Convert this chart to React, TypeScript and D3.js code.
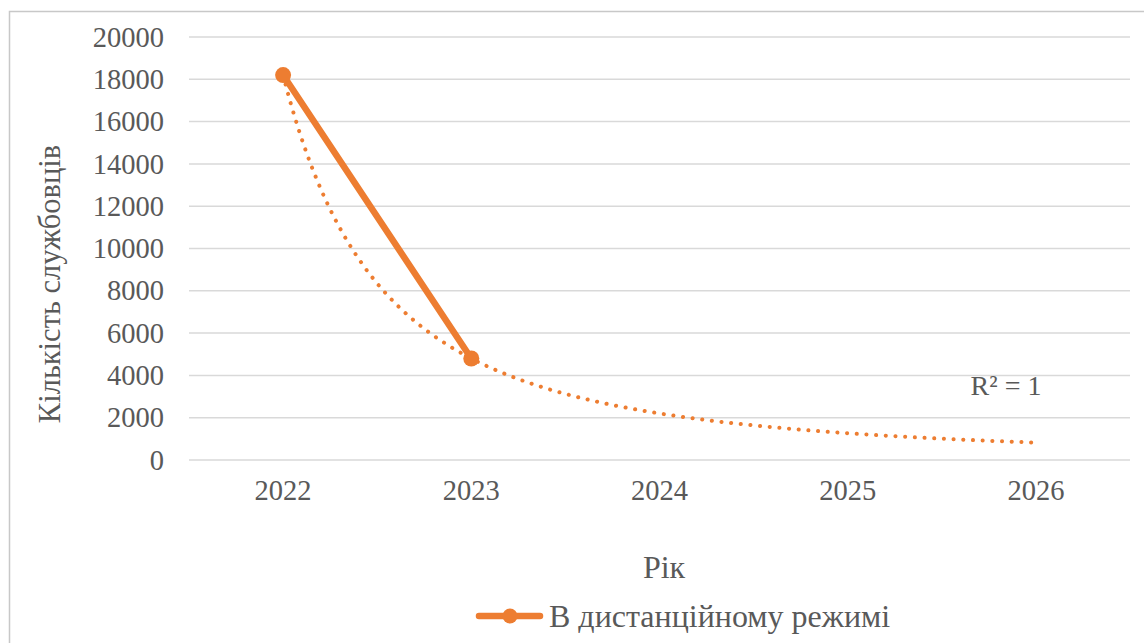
import * as d3 from 'd3';
import { useEffect, useRef } from 'react';

const years = ['2022', '2023', '2024', '2025', '2026'];
const seriesYears = ['2022', '2023'];
const remoteValues = [18200, 4800];
const yTicks = [0, 2000, 4000, 6000, 8000, 10000, 12000, 14000, 16000, 18000, 20000];
const seriesName = 'В дистанційному режимі';
const yTitle = 'Кількість службовців';
const xTitle = 'Рік';
const r2Label = 'R² = 1';

const ORANGE = '#ED7D31';
const TEXT = '#595959';
const FONT = 'Liberation Serif';

export default function App() {
    const svgRef = useRef<SVGSVGElement | null>(null);

    useEffect(() => {
        if (!svgRef.current) return;
        const svg = d3.select(svgRef.current);
        svg.selectAll('*').remove();

        const left = 189, right = 1130, top = 37, bottom = 460;

        const x = d3.scaleBand().domain(years).range([left, right]);
        const y = d3.scaleLinear().domain([0, 20000]).range([bottom, top]);
        const cx = (d: string) => (x(d) ?? 0) + x.bandwidth() / 2;

        // chart frame
        svg.append('rect')
            .attr('x', 9.5).attr('y', 11.5)
            .attr('width', 1200).attr('height', 700)
            .attr('fill', '#fff').attr('stroke', '#c8c8c8').attr('stroke-width', 1.5);

        // gridlines + y labels
        svg.append('g').selectAll('line').data(yTicks).join('line')
            .attr('x1', left).attr('x2', right)
            .attr('y1', (d) => y(d)).attr('y2', (d) => y(d))
            .attr('stroke', '#d9d9d9').attr('stroke-width', 1.5);

        svg.append('g').selectAll('text').data(yTicks).join('text')
            .attr('x', 164).attr('y', (d) => y(d))
            .attr('dy', '0.34em')
            .attr('text-anchor', 'end')
            .style('font-family', FONT).attr('font-size', 28.5).attr('fill', TEXT)
            .text((d) => String(d));

        // x labels
        svg.append('g').selectAll('text').data(years).join('text')
            .attr('x', (d) => cx(d)).attr('y', 500)
            .attr('text-anchor', 'middle')
            .style('font-family', FONT).attr('font-size', 28.5).attr('fill', TEXT)
            .text((d) => d);

        // axis titles
        svg.append('text')
            .attr('transform', 'translate(60,284) rotate(-90)')
            .attr('text-anchor', 'middle')
            .style('font-family', FONT).attr('font-size', 30.5).attr('fill', TEXT)
            .text(yTitle);

        svg.append('text')
            .attr('x', 664).attr('y', 578)
            .attr('text-anchor', 'middle')
            .style('font-family', FONT).attr('font-size', 32).attr('fill', TEXT)
            .text(xTitle);

        // power trendline fitted from the data (least squares in log-log)
        const pts = remoteValues.map((v, i) => [Math.log(years.indexOf(seriesYears[i]) + 1), Math.log(v)]);
        const mx = d3.mean(pts, (p) => p[0]) ?? 0;
        const my = d3.mean(pts, (p) => p[1]) ?? 0;
        const b = d3.sum(pts, (p) => (p[0] - mx) * (p[1] - my)) / d3.sum(pts, (p) => (p[0] - mx) ** 2);
        const a = Math.exp(my - b * mx);
        const xs = d3.range(1, 5.0001, 0.02);
        const trendX = d3.scaleLinear().domain([1, years.length]).range([cx(years[0]), cx(years[years.length - 1])]);

        svg.append('path')
            .datum(xs)
            .attr('d', d3.line<number>().x((t) => trendX(t)).y((t) => y(a * Math.pow(t, b))))
            .attr('fill', 'none')
            .attr('stroke', ORANGE)
            .attr('stroke-width', 4)
            .attr('stroke-linecap', 'round')
            .attr('stroke-dasharray', '0.1 9.6');

        // series line
        svg.append('path')
            .datum(remoteValues)
            .attr('d', d3.line<number>().x((_, i) => cx(seriesYears[i])).y((d) => y(d)))
            .attr('fill', 'none')
            .attr('stroke', ORANGE)
            .attr('stroke-width', 6.5)
            .attr('stroke-linecap', 'round');

        svg.append('g').selectAll('circle').data(remoteValues).join('circle')
            .attr('cx', (_, i) => cx(seriesYears[i]))
            .attr('cy', (d) => y(d))
            .attr('r', 8)
            .attr('fill', ORANGE);

        // R² label
        svg.append('text')
            .attr('x', 1006).attr('y', 395)
            .attr('text-anchor', 'middle')
            .style('font-family', FONT).attr('font-size', 28).attr('fill', TEXT)
            .text(r2Label);

        // legend
        const lg = svg.append('g');
        lg.append('line')
            .attr('x1', 479).attr('x2', 540).attr('y1', 616).attr('y2', 616)
            .attr('stroke', ORANGE).attr('stroke-width', 6.5).attr('stroke-linecap', 'round');
        lg.append('circle').attr('cx', 510).attr('cy', 616).attr('r', 7.5).attr('fill', ORANGE);
        lg.append('text')
            .attr('x', 549).attr('y', 627)
            .style('font-family', FONT).attr('font-size', 32).attr('fill', TEXT)
            .text(seriesName);
    }, []);

    return (
        <svg
            ref={svgRef}
            width={1144}
            height={643}
            style={{ position: 'fixed', left: 0, top: 0, background: '#fff' }}
        />
    );
}
